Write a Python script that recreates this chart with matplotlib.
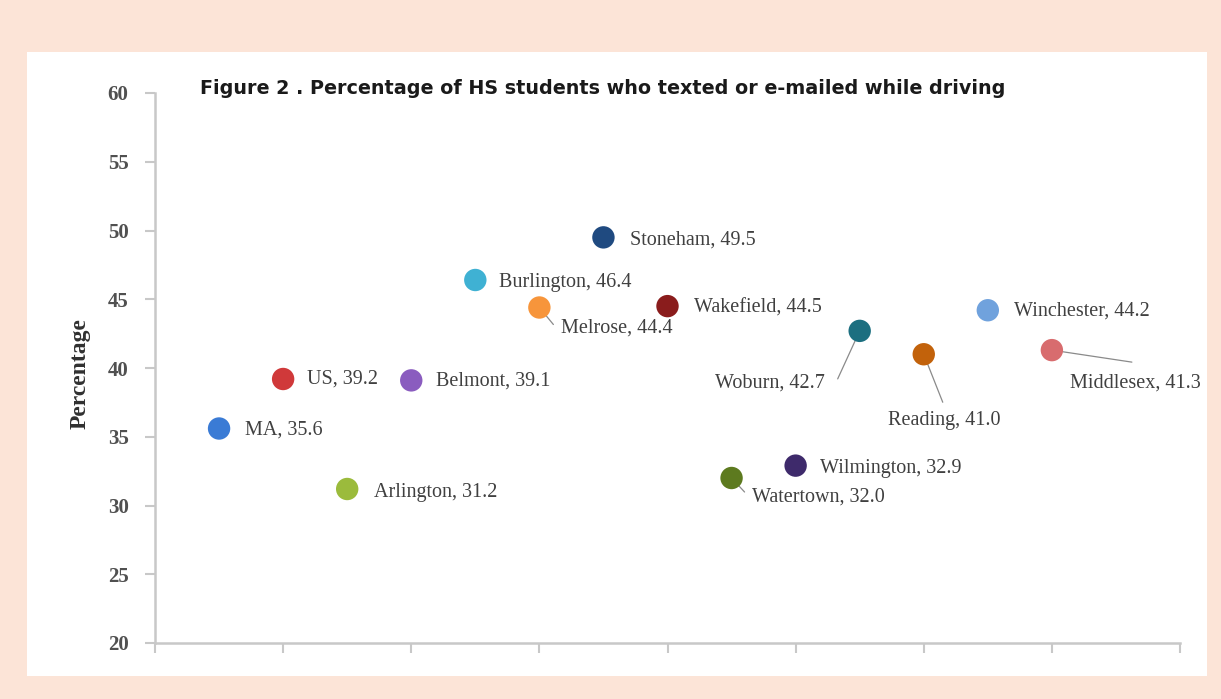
import matplotlib.pyplot as plt
from matplotlib.patches import Rectangle

places = ["MA", "US", "Arlington", "Belmont", "Burlington", "Melrose", "Stoneham",
          "Wakefield", "Watertown", "Wilmington", "Woburn", "Reading", "Winchester", "Middlesex"]
xpos = [0.5, 1, 1.5, 2, 2.5, 3, 3.5, 4, 4.5, 5, 5.5, 6, 6.5, 7]
pct = [35.6, 39.2, 31.2, 39.1, 46.4, 44.4, 49.5, 44.5, 32.0, 32.9, 42.7, 41.0, 44.2, 41.3]
colors = ["#3a7bd5", "#d0393a", "#9bbb3c", "#8a5cbf", "#3fb1d3", "#f7953b", "#1f4a80",
          "#8a1c1c", "#5d7a1f", "#3e2a6b", "#1c6f80", "#c2620b", "#70a2dd", "#d86c6e"]

# label offset (px), alignment, and leader-line end offset (px) or None
offsets = {
    "MA": (26, -2, "left", None), "US": (24, 0, "left", None),
    "Arlington": (27, -3, "left", None), "Belmont": (25, -1, "left", None),
    "Burlington": (24, -2, "left", None), "Melrose": (22, -21, "left", (14, -17)),
    "Stoneham": (27, -3, "left", None), "Wakefield": (26, -2, "left", None),
    "Watertown": (20, -19, "left", (13, -14)), "Wilmington": (24, -3, "left", None),
    "Woburn": (-35, -52, "right", (-22, -48)), "Reading": (21, -66, "center", (19, -48)),
    "Winchester": (26, -1, "left", None), "Middlesex": (18, -33, "left", (80, -12)),
}

fig = plt.figure(figsize=(12.21, 6.99), dpi=100, facecolor="#fce4d7")
fig.patches.append(Rectangle((27 / 1221, 1 - 676 / 699), 1180 / 1221, 624 / 699,
                             transform=fig.transFigure, facecolor="white",
                             edgecolor="none", zorder=-5))

ax = fig.add_axes([155 / 1221, 1 - 643 / 699, 1025 / 1221, 550 / 699])
ax.set_facecolor("none")
ax.scatter(xpos, pct, s=260, c=colors, zorder=3, edgecolors="none")

for name, x, y in zip(places, xpos, pct):
    dx, dy, ha, leader = offsets[name]
    if leader:
        ax.annotate("", (x, y), xytext=leader, textcoords="offset pixels", zorder=2,
                    arrowprops=dict(arrowstyle="-", color="#8a8a8a", lw=0.9,
                                    shrinkA=0, shrinkB=0))
    ax.annotate(f"{name}, {y:.1f}", (x, y), xytext=(dx, dy), textcoords="offset pixels",
                ha=ha, va="center", fontsize=14.5, family="Liberation Serif",
                color="#404040")

ax.set_xlim(0, 8)
ax.set_ylim(20, 60)
ax.set_xticks(range(0, 9))
ax.set_xticklabels([])
ax.set_yticks(range(20, 61, 5))
for side in ["top", "right"]:
    ax.spines[side].set_visible(False)
for side in ["left", "bottom"]:
    ax.spines[side].set_color("#c8c8c8")
    ax.spines[side].set_linewidth(1.8)
ax.tick_params(axis="both", color="#c8c8c8", width=1.5, length=7)
ax.tick_params(axis="y", labelsize=15, labelcolor="#505050", pad=12)
for lbl in ax.get_yticklabels():
    lbl.set_family("Liberation Serif")
    lbl.set_fontweight("bold")

ax.set_ylabel("Percentage", family="Liberation Serif", fontweight="bold",
              fontsize=17, color="#303030")
ax.yaxis.set_label_coords(-0.063, 0.49)

fig.text(200 / 1221, 1 - 88 / 699,
         "Figure 2 . Percentage of HS students who texted or e-mailed while driving",
         family="DejaVu Sans", fontweight="bold", fontsize=13.8, color="#1a1a1a",
         ha="left", va="center")

fig.savefig("out.png", dpi=100, facecolor=fig.get_facecolor())
